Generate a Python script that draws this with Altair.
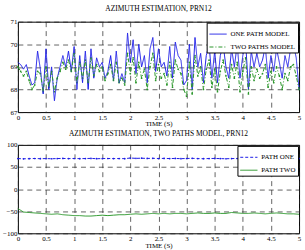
import altair as alt
import pandas as pd

# Azimuth estimates (deg) sampled every 0.05 s over 5 s
t_top = [round(i * 0.05, 2) for i in range(101)]
one_path = [
    69.2, 69.1, 68.9, 69.1, 68.6, 68.2, 68.3, 69.7, 68.9, 67.8,
    69.8, 68.0, 69.0, 67.5, 68.5, 69.0, 69.5, 69.0, 69.7, 68.8,
    69.9, 68.0, 69.5, 68.3, 69.7, 68.0, 69.8, 68.5, 69.4, 69.0,
    69.2, 68.5, 68.8, 69.5, 68.4, 69.7, 68.3, 68.7, 68.3, 70.5,
    69.2, 70.2, 68.7, 70.0, 69.0, 69.5, 68.3, 69.8, 70.3, 68.8,
    69.8, 69.0, 69.2, 68.6, 69.9, 68.5, 70.1, 69.5, 69.3, 68.2,
    68.4, 70.0, 68.0, 70.3, 69.0, 69.6, 68.3, 69.5, 70.0, 68.5,
    69.7, 68.3, 69.5, 70.0, 69.0, 68.5, 69.8, 69.0, 70.0, 68.5,
    69.5, 70.1, 68.0, 69.7, 69.0, 69.6, 69.0, 69.3, 69.9, 68.5,
    69.5, 68.8, 69.8, 69.2, 68.5, 69.5, 69.0, 69.8, 70.0, 69.4,
    68.0,
]
two_paths = [
    69.0, 68.8, 68.6, 68.8, 68.4, 68.0, 68.2, 68.8, 68.7, 67.9,
    69.0, 68.1, 68.8, 67.9, 68.5, 68.8, 69.2, 68.9, 69.3, 68.8,
    69.6, 68.3, 69.2, 68.5, 69.3, 68.3, 69.4, 68.6, 69.1, 68.8,
    69.0, 68.4, 68.7, 69.1, 68.4, 69.2, 68.3, 68.5, 68.2, 69.6,
    68.7, 69.4, 68.3, 69.2, 68.5, 68.9, 68.0, 69.0, 69.6, 68.4,
    69.1, 68.5, 68.7, 68.2, 69.2, 68.1, 69.3, 68.9, 68.7, 68.0,
    67.7, 69.2, 67.8, 69.5, 68.6, 69.0, 68.0, 68.9, 69.3, 68.1,
    68.9, 67.9, 68.8, 69.3, 68.6, 68.1, 69.1, 68.5, 69.2, 67.9,
    68.8, 69.4, 67.8, 69.0, 68.4, 68.9, 68.5, 68.7, 69.1, 68.1,
    68.8, 68.3, 69.0, 68.6, 68.0, 68.7, 68.4, 69.0, 69.1, 68.6,
    68.0,
]

# Per-path azimuth of the two-path model, every 0.1 s
t_bot = [round(i * 0.1, 1) for i in range(51)]
path_one = [
    69.0, 68.5, 68.8, 69.2, 68.7, 69.0, 68.6, 69.1, 69.3, 68.9,
    69.2, 68.8, 69.1, 69.4, 68.7, 69.0, 69.2, 68.9, 69.1, 68.8,
    70.2, 69.5, 69.8, 69.3, 69.6, 69.1, 69.4, 69.0, 69.3, 68.8,
    69.2, 69.5, 69.0, 68.7, 69.1, 69.3, 68.9, 68.6, 69.0, 69.2,
    68.8, 69.1, 69.3, 68.9, 69.2, 69.5, 69.1, 68.9, 69.2, 69.0,
    69.1,
]
path_two = [
    -44, -52, -53, -54, -55, -56, -57, -56, -58, -59,
    -60, -60, -61, -61, -60, -59, -60, -59, -58, -58,
    -57, -56, -57, -56, -55, -56, -55, -56, -55, -55,
    -56, -55, -54, -55, -55, -54, -55, -55, -53, -54,
    -55, -55, -54, -55, -56, -55, -54, -55, -56, -56,
    -57,
]

x_ticks = [0, 0.5, 1, 1.5, 2, 2.5, 3, 3.5, 4, 4.5, 5]

FONT = "Liberation Serif"
BLUE = "#1c1ce6"
GREEN = "#2a962a"

top_names = ["ONE PATH MODEL", "TWO PATHS MODEL"]
bot_names = ["PATH ONE", "PATH TWO"]

top_df = pd.concat([
    pd.DataFrame({"t": t_top, "az": one_path, "series": top_names[0]}),
    pd.DataFrame({"t": t_top, "az": two_paths, "series": top_names[1]}),
])
bot_df = pd.concat([
    pd.DataFrame({"t": t_bot, "az": path_one, "series": bot_names[0]}),
    pd.DataFrame({"t": t_bot, "az": path_two, "series": bot_names[1]}),
])

x_enc = alt.X(
    "t:Q",
    scale=alt.Scale(domain=[0, 5], nice=False),
    axis=alt.Axis(values=x_ticks, format="~g", title="TIME (S)"),
)


def legend():
    return alt.Legend(
        title=None, orient="top-right", offset=1,
        fillColor="white", strokeColor="black", padding=2,
        rowPadding=0, symbolType="stroke", symbolSize=300,
        symbolStrokeWidth=1, labelFont=FONT, labelFontSize=7,
        labelColor="black", labelOffset=3,
    )


top_y = alt.Y("az:Q", scale=alt.Scale(domain=[67, 71], nice=False),
              axis=alt.Axis(values=[67, 68, 69, 70, 71], title=None))
bot_y = alt.Y("az:Q", scale=alt.Scale(domain=[-100, 100], nice=False),
              axis=alt.Axis(values=[-100, -50, 0, 50, 100], title=None))

top_lines = alt.Chart(top_df).mark_line(strokeWidth=1).encode(
    x=x_enc, y=top_y,
    color=alt.Color("series:N", scale=alt.Scale(domain=top_names, range=[BLUE, GREEN]),
                    legend=legend()),
    strokeDash=alt.StrokeDash("series:N", scale=alt.Scale(
        domain=top_names, range=[[1, 0], [4, 2, 1, 2]]), legend=legend()),
    order="t:Q",
)
top_dots = alt.Chart(top_df).transform_filter(
    alt.datum.series == top_names[1]
).mark_circle(size=3, opacity=1, color=GREEN).encode(x=x_enc, y=top_y)
top = alt.layer(top_dots, top_lines).properties(
    width=283, height=91,
    title=alt.TitleParams("AZIMUTH ESTIMATION, PRN12", offset=5),
)

bot_lines = alt.Chart(bot_df).mark_line(strokeWidth=1).encode(
    x=x_enc, y=bot_y,
    color=alt.Color("series:N", scale=alt.Scale(domain=bot_names, range=[BLUE, GREEN]),
                    legend=legend()),
    strokeDash=alt.StrokeDash("series:N", scale=alt.Scale(
        domain=bot_names, range=[[3, 2], [1, 0]]), legend=legend()),
    order="t:Q",
)
bot_dots = alt.Chart(bot_df).transform_filter(
    alt.datum.series == bot_names[0]
).mark_circle(size=3, opacity=1, color=BLUE).encode(x=x_enc, y=bot_y)
bottom = alt.layer(bot_dots, bot_lines).properties(
    width=283, height=89,
    title=alt.TitleParams("AZIMUTH ESTIMATION, TWO PATHS MODEL, PRN12", offset=3),
)

chart = alt.vconcat(top, bottom, spacing=2).resolve_scale(
    color="independent", strokeDash="independent"
).properties(
    padding={"left": 2, "top": 4, "right": 3, "bottom": 0},
    background="white",
).configure_view(
    stroke="black", strokeWidth=1,
).configure_axis(
    grid=True, gridColor="#222222", gridDash=[5, 4], gridWidth=0.7, gridOpacity=1,
    ticks=False, domain=False, labelFont=FONT, labelFontSize=7, labelColor="black",
    labelPadding=1, titleFont=FONT, titleFontSize=7, titleFontWeight="normal",
    titleColor="black", titlePadding=0,
).configure_axisX(labelFlush=False).configure_title(
    font=FONT, fontSize=7.5, fontWeight="normal", color="black",
)

chart.save("out.html", embed_options={"renderer": "svg", "actions": False})
